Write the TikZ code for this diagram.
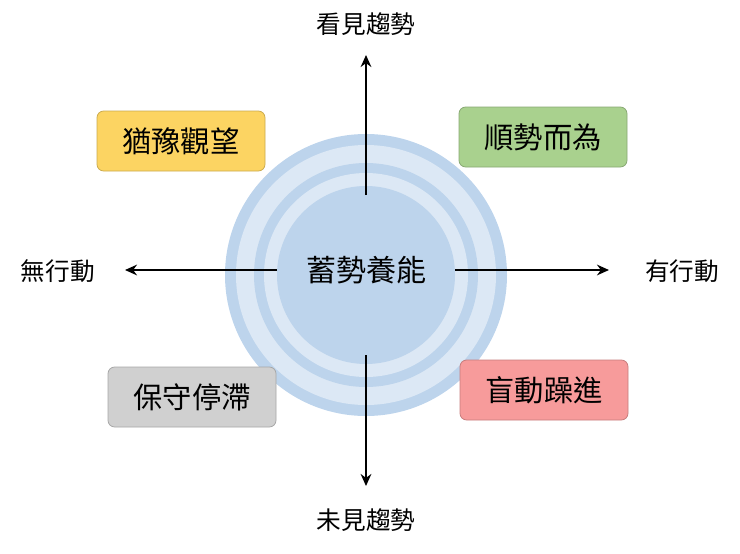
\documentclass[tikz,border=0pt]{standalone}
\usepackage{fontspec}
\setmainfont{Noto Sans CJK TC}
\usetikzlibrary{arrows.meta}
\definecolor{ringA}{HTML}{BDD4EC}
\definecolor{ringP}{HTML}{DCE8F5}
\definecolor{ringB}{HTML}{BDD4EC}
\definecolor{cy}{HTML}{FCD462}
\definecolor{cg}{HTML}{A9D18E}
\definecolor{cgr}{HTML}{D0D0D0}
\definecolor{cr}{HTML}{F79B9B}
\tikzset{
 qbox/.style={draw=#1!80!black, line width=0.6pt, fill=#1, rounded corners=5pt, minimum width=126pt, minimum height=45pt, font=\fontsize{22}{26}\selectfont, inner sep=0pt},
 axlabel/.style={font=\fontsize{18.5}{22}\selectfont},
 ax/.style={line width=1.5pt, -{Stealth[length=9pt,width=8pt]}}
}
\begin{document}
\begin{tikzpicture}[x=0.75pt,y=-0.75pt]
\useasboundingbox (0,0) rectangle (740,554);
\fill[ringA] (366,275) circle (141);
\fill[ringP] (366,275) circle (130);
\fill[ringA] (366,275) circle (112);
\fill[ringP] (366,275) circle (102);
\fill[ringB] (366,275) circle (89);
\node[font=\fontsize{22.5}{26}\selectfont] (c) at (366,270) {蓄勢養能};
\coordinate (ct) at (366,195);
\coordinate (cb) at (366,355);
\coordinate (cl) at (277,270);
\coordinate (cr0) at (455,270);
\node[axlabel] (t) at (366,24) {看見趨勢};
\node[axlabel] (b) at (366,520) {未見趨勢};
\node[axlabel] (l) at (58,271) {無行動};
\node[axlabel] (r) at (682,271) {有行動};
\draw[ax] (ct) -- (366,55);
\draw[ax] (cb) -- (366,486);
\draw[ax] (cl) -- (125,270);
\draw[ax] (cr0) -- (609,270);
\node[qbox=cy] (q1) at (181,141) {猶豫觀望};
\node[qbox=cg] (q2) at (543,137) {順勢而為};
\node[qbox=cgr] (q3) at (192,397) {保守停滯};
\node[qbox=cr] (q4) at (544,390) {盲動躁進};
\end{tikzpicture}
\end{document}
